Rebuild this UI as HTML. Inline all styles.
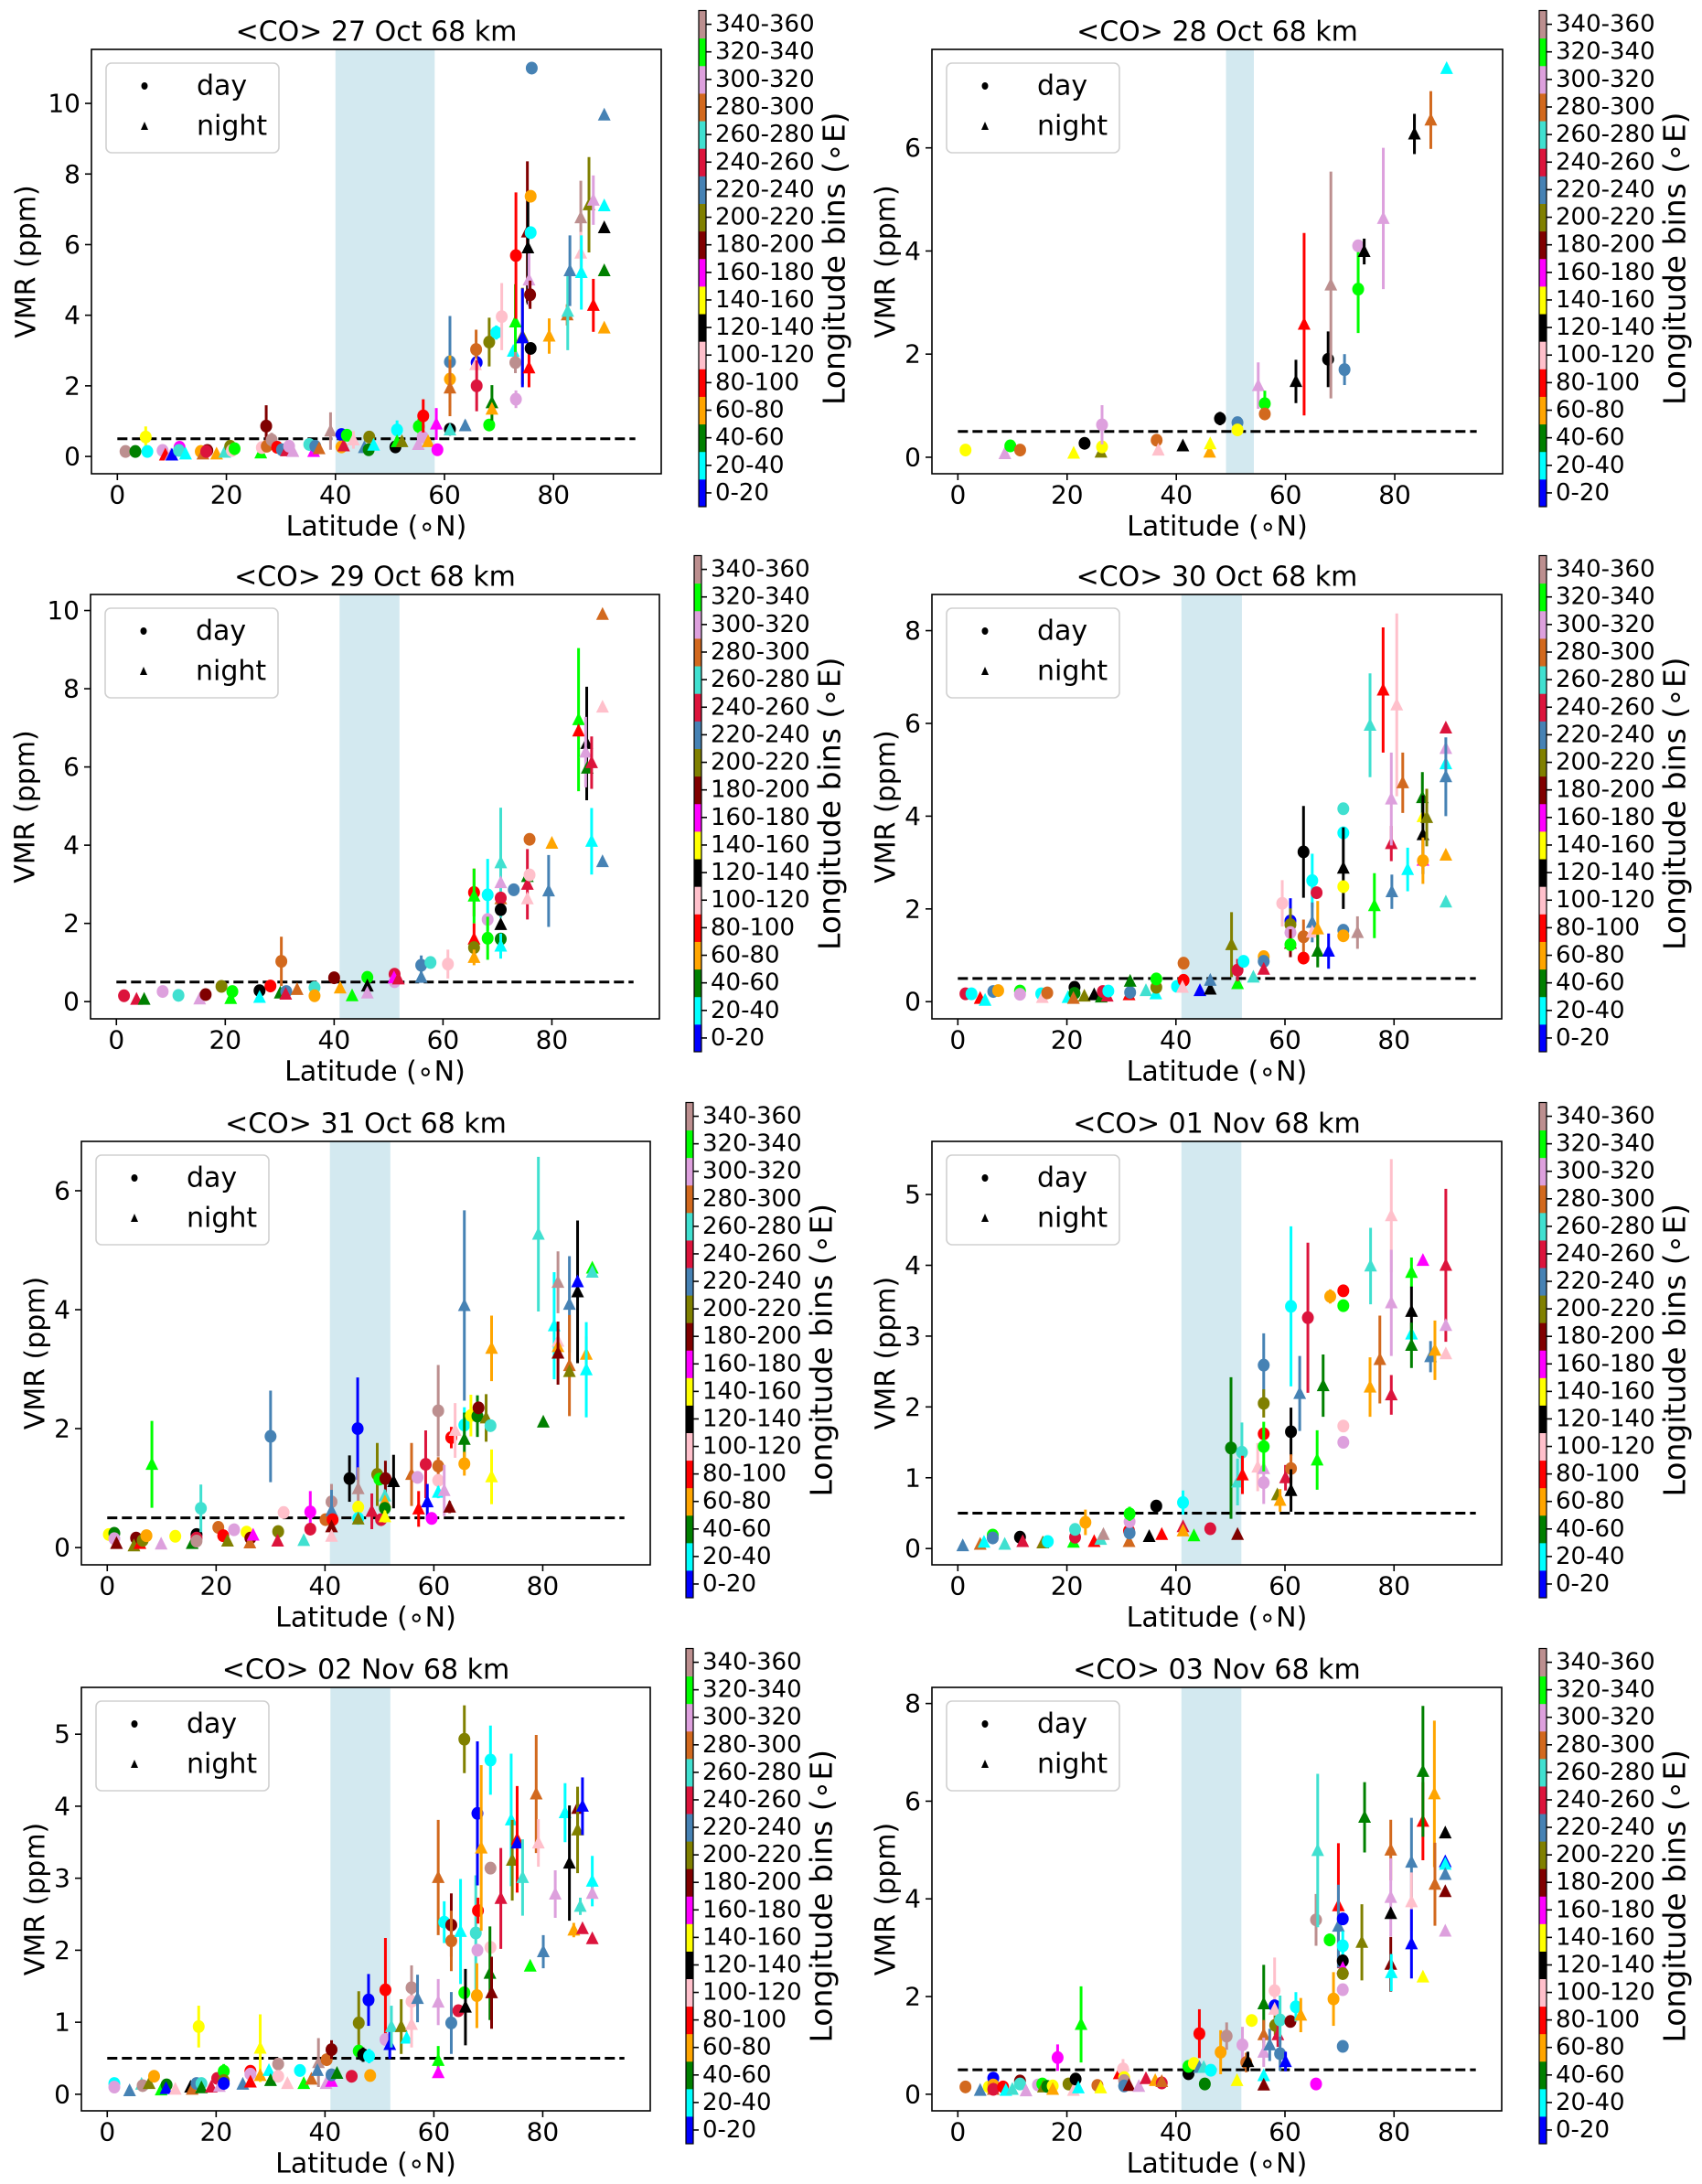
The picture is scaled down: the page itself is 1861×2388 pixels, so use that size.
<!DOCTYPE html>
<html><head><meta charset="utf-8"><title>CO VMR vs latitude</title>
<style>
html,body{margin:0;padding:0;background:#fff;}
svg{display:block;font-family:"DejaVu Sans","Liberation Sans",sans-serif;}
</style></head>
<body>
<svg id="fig" xmlns="http://www.w3.org/2000/svg" width="1861" height="2388" viewBox="0 0 1861 2388"></svg>
<script>
// ---- data: bin colours (longitude bins) ----
const binLabels = ["0-20","20-40","40-60","60-80","80-100","100-120","120-140","140-160","160-180","180-200","200-220","220-240","240-260","260-280","280-300","300-320","320-340","340-360"];
const binColors = ["#0000ff","#00ffff","#008000","#ffa500","#ff0000","#ffc0cb","#000000","#ffff00","#ff00ff","#800000","#808000","#4682b4","#dc143c","#40e0d0","#d2691e","#dda0dd","#00ff00","#bc8f8f"];
const xTicks = [0,20,40,60,80];
const thresholdVmr = 0.5;
const thresholdLat = [0,95];

// ---- Panel 1: 27 Oct ----
const p1Lat=[1.5,3.3,5.2,5.5,8.3,8.8,9.8,10,11.4,11.3,12.5,15.3,15.7,16.5,16.3,18.2,19.7,20.7,21,21.5,26.3,26.5,27.3,27.4,28.3,29.3,30.2,31,31.5,32.2,35.2,36,36.3,37,39.1,41.1,41.1,41.5,42.1,43.3,45.3,46.1,46.2,47,51,51.3,51.3,52.2,55.2,55.3,56,56.1,57,58.5,58.7,61,61,61,61,61,63.8,65.9,65.8,65.7,65.9,68.2,68.7,68.7,68.2,69.5,70.5,72.6,73,73,73.1,73.1,74.3,74.3,75.2,75.3,75.5,75.5,75.8,75.8,75.7,75.8,76,79.2,82.5,82.6,83,85,85,85.1,86.5,87.3,87.3,89.3,89.3,89.3,89.3,89.3];
const p1Vmr=[.14,.14,.55,.14,.17,.04,.04,.04,.26,.17,.07,.14,.07,.17,.14,.07,.12,.29,.17,.22,.1,.25,.86,.29,.47,.26,.19,.16,.29,.14,.34,.14,.29,.22,.72,.62,.27,.3,.6,.47,.25,.19,.55,.32,.27,.75,.42,.42,.34,.85,.55,1.15,.42,.92,.19,2.68,2.19,1.94,.77,.75,.87,2.66,3.03,2.6,2.0,.89,1.52,1.34,3.24,3.51,3.96,2.98,3.81,2.66,5.69,1.62,3.41,3.36,6.36,5.91,5.0,2.51,7.37,6.34,4.58,3.06,11.0,3.41,4.01,4.11,5.26,6.76,5.76,5.21,7.13,7.26,4.28,9.67,7.1,6.48,5.26,3.64];
const p1Err=[0,0,.3,0,0,0,0,0,0,0,0,0,0,0,0,0,0,0,0,0,0,0,.59,0,.2,0,0,0,0,0,0,0,0,0,.53,.1,0,0,0,.25,0,0,0,0,0,.27,0,0,0,.22,0,.47,0,.45,0,1.3,.67,.8,0,.1,.15,.2,.56,0,.72,0,.5,0,.69,.2,.95,0,1.07,.3,1.79,.25,1.37,1.4,2.0,1.6,.75,.55,0,0,.4,0,0,.5,.3,1.1,1.0,1.05,.6,1.05,1.35,.7,.75,0,0,0,0,0];
const p1Bin=[17,2,7,1,15,4,15,0,8,13,1,3,14,9,12,3,13,10,5,16,16,5,9,14,17,4,11,12,15,15,13,8,11,14,17,0,3,12,16,5,11,2,10,1,6,1,16,10,15,16,15,4,3,8,8,11,3,14,6,13,11,0,14,5,12,16,2,3,10,1,5,1,16,17,4,15,10,0,9,6,15,4,3,1,9,6,11,3,14,13,11,17,5,1,10,15,4,11,1,6,2,3];
const p1Night=[0,0,0,0,0,1,1,1,0,0,1,0,1,0,0,1,1,0,0,0,1,0,0,0,0,0,0,1,0,1,0,1,0,1,1,0,0,1,0,1,1,0,0,1,0,0,1,1,1,0,0,0,1,1,0,0,0,1,0,1,1,0,0,1,0,0,1,1,0,0,0,1,1,0,0,0,1,1,1,1,1,1,0,0,0,0,0,1,1,1,1,1,1,1,1,1,1,1,1,1,1,1];

// ---- Panel 2: 28 Oct ----
const p2Lat=[1.4,8.6,9.6,11.4,21.2,23.2,26.2,26.4,26.4,36.4,36.7,41.2,46.1,46.2,48,51.2,51.2,55,56.2,56.2,61.9,63.4,67.8,68.3,70.8,73.3,73.3,74.4,77.9,83.6,86.6,89.5];
const p2Vmr=[.14,.07,.22,.14,.08,.27,.1,.2,.63,.33,.14,.22,.1,.26,.75,.67,.53,1.39,1.04,.84,1.47,2.58,1.9,3.34,1.7,3.26,4.1,3.99,4.63,6.27,6.54,7.54];
const p2Err=[0,0,0,0,0,0,0,0,.38,0,0,0,0,0,.13,.1,0,.45,.25,.1,.42,1.77,.54,2.2,.3,.85,0,.25,1.37,.39,.56,0];
const p2Bin=[7,15,16,14,7,6,10,7,15,14,5,6,3,7,6,11,7,15,16,14,6,4,6,17,11,16,15,6,15,6,14,1];
const p2Night=[0,1,0,0,1,0,1,0,0,0,1,1,1,1,0,0,0,1,0,0,1,1,0,1,0,0,0,1,1,1,1,1];

// ---- Panel 3: 29 Oct ----
const p3Lat=[1.4,3.7,5.1,8.5,11.4,15.3,16.4,19.3,21.3,21,26.3,26.3,28.3,30.3,30.1,31.2,31.1,33.2,36.4,36.4,40,41.1,43.3,46.1,46.1,46.1,51.1,51.1,51,51.8,56,56,57.7,60.9,65.7,65.7,65.7,65.7,65.7,68.2,68.2,68.2,70.6,70.6,70.6,70.6,70.6,70.6,70.6,70.6,73,75.5,75.5,75.5,75.9,75.9,79.4,80,84.9,84.9,86.4,86.2,86.5,87.3,87.3,89.3,89.3,89.3];
const p3Vmr=[.15,.06,.06,.26,.16,.07,.18,.39,.26,.08,.28,.11,.4,1.03,.22,.26,.19,.31,.36,.15,.61,.35,.15,.62,.4,.22,.7,.51,.61,.58,.93,.62,1.0,.96,2.79,2.7,1.6,1.38,1.13,2.73,2.1,1.62,3.55,3.04,2.63,2.65,2.35,1.97,1.6,1.42,2.86,3.2,3.0,2.63,3.24,4.15,2.83,4.05,7.21,6.92,6.6,6.38,5.97,6.11,4.1,9.9,7.53,3.58];
const p3Err=[0,0,0,0,0,0,0,0,0,0,0,0,0,.63,0,0,0,0,0,0,.08,0,0,0,0,0,.08,0,0,0,.25,0,.05,.37,.61,.7,.4,0,.2,.92,0,.55,1.41,0,0,0,0,0,0,.32,0,0,.9,0,0,0,.92,0,1.83,0,1.45,.9,0,.67,.85,0,0,0];
const p3Bin=[12,12,2,15,13,15,9,10,16,16,6,1,4,14,2,11,12,14,13,3,9,3,16,16,6,15,12,15,8,12,11,11,13,5,4,16,4,10,3,1,15,16,13,15,14,12,6,6,2,1,11,2,12,5,5,14,11,3,16,4,6,15,2,12,1,14,5,11];
const p3Night=[0,1,1,0,0,1,0,0,0,1,0,1,0,0,1,0,1,1,0,0,0,1,1,0,1,1,0,0,1,1,0,1,0,0,0,1,1,0,1,0,0,0,1,1,1,0,0,1,0,1,0,1,1,1,0,0,1,1,1,1,1,1,1,1,1,1,1,1];

// ---- Panel 4: 30 Oct ----
const p4Lat=[1.4,2.5,4.1,5,6.5,7.4,11.4,11.4,15.3,15.5,16.4,20.2,21.4,21.4,21.2,23.2,25,26.3,26.6,27.4,27.6,31.4,31.6,31.6,34.5,36.3,36.4,36.4,40.2,41.4,41.4,41.2,44.4,46.3,46.3,50.2,51.3,51.3,52.4,54.2,56.1,56.1,56.1,59.5,61,61,61,61,61,63.4,63.4,63.4,65,65,65,65.8,66,66,68,70.7,70.7,70.7,70.7,70.7,70.7,73.3,75.6,76.4,78,79.5,79.5,79.6,80.5,81.6,82.5,85.2,85.3,85.3,85.3,85.3,86,89.5,89.5,89.5,89.5,89.5,89.5];
const p4Vmr=[.17,.17,.07,.03,.22,.24,.23,.16,.17,.09,.19,.09,.31,.18,.07,.12,.15,.1,.22,.12,.23,.15,.2,.44,.24,.17,.31,.49,.33,.46,.83,.31,.24,.27,.46,1.23,.39,.68,.87,.53,.97,.87,.7,2.12,1.74,1.66,1.49,1.26,1.23,3.23,1.4,.94,2.61,1.71,1.5,2.35,1.57,1.09,1.09,4.16,3.64,2.88,2.48,1.54,1.42,1.49,5.96,2.07,6.72,3.41,4.37,2.37,6.4,4.72,2.85,4.4,3.99,3.6,3.05,3.04,3.97,5.9,5.46,5.13,4.85,3.16,2.15];
const p4Err=[0,0,0,0,0,0,0,0,0,0,0,0,0,0,0,0,0,0,0,0,0,0,0,0,0,0,0,0,0,0,.08,0,0,0,0,.7,0,.24,.05,.05,.08,0,0,.5,.49,.35,0,.3,0,.99,.37,.05,.58,.43,0,0,.6,.35,.38,0,0,.88,0,0,0,.35,1.12,.7,1.35,.38,1.0,.37,1.97,.65,.47,.55,0,.85,0,.5,.62,0,0,0,.85,0,0];
const p4Bin=[12,1,4,1,11,3,16,15,1,5,14,1,6,2,14,10,6,2,12,12,1,4,11,2,13,1,10,16,1,4,14,5,0,6,11,10,16,12,1,13,3,11,12,5,0,10,15,9,16,6,14,4,1,11,5,12,3,2,0,13,1,6,7,11,3,17,13,16,4,12,15,11,5,14,1,2,7,6,8,3,10,12,15,1,11,3,13];
const p4Night=[0,0,1,1,0,0,0,0,0,1,0,1,0,0,1,1,1,1,0,1,0,1,0,1,1,1,0,0,0,0,0,1,1,1,1,1,1,0,0,1,0,0,1,0,0,0,0,1,0,0,0,0,0,1,1,0,1,1,1,0,0,1,0,0,0,1,1,1,1,1,1,1,1,1,1,1,1,1,1,0,1,1,1,1,1,1,1];

// ---- Panel 5: 31 Oct ----
const p5Lat=[.3,1.3,1.3,1.7,5.3,4.9,6,6.5,7.2,8.2,9.9,12.5,15.6,16.4,16.4,16.4,17.2,20.4,21.3,22.1,23.3,25.6,26.3,26.2,26.8,30,31.4,31.3,32.4,36.1,37.3,37.3,40.1,41.2,41.2,41.4,41.2,41.2,44.5,46,46.1,46.1,46.1,46.1,48.6,49.6,50,50.3,51.1,51,51,51,51,52.6,55.9,57,57.2,58.5,58.8,59.6,60.8,60.8,60.8,60.8,61.9,62.9,63.2,63.9,65.6,65.6,65.6,65.6,66.8,68,68.2,69.6,70.4,70.6,70.6,79.2,80.1,82.1,82.8,82.8,82.8,82.8,84.9,84.9,84.9,86.4,86.4,88,88,89.1,89.1];
const p5Vmr=[.22,.24,.15,.07,.16,.03,.07,.12,.2,1.4,.06,.19,.07,.22,.16,.11,.66,.34,.2,.11,.3,.26,.16,.08,.21,1.87,.27,.11,.59,.12,.6,.31,.47,.77,.62,.47,.35,.19,1.16,2.0,.99,.68,.49,.48,.61,1.23,1.15,.47,1.16,.87,.77,.66,.52,1.11,1.23,1.18,.65,1.4,.77,.49,2.3,1.37,1.13,.93,.96,.68,1.85,1.97,2.06,4.07,1.82,1.41,2.22,2.21,2.35,2.18,2.05,3.35,1.19,5.27,2.11,3.73,4.46,3.47,3.38,3.27,4.09,3.06,2.96,4.3,4.47,3.25,2.99,4.7,4.63];
const p5Err=[0,0,0,0,0,0,0,0,0,.73,0,0,0,0,0,0,.4,0,0,0,0,0,0,0,0,.77,0,0,.05,0,.35,0,0,.3,.35,0,0,0,.39,.86,.36,0,.1,0,.3,.53,.1,0,.3,.1,0,0,.1,.45,.53,.1,.3,.57,.3,0,.77,.15,0,.1,.43,.1,.18,.46,.3,1.6,.45,.2,.35,.35,.1,.4,0,.55,.46,1.3,0,.9,.52,0,0,.53,.81,.85,0,1.2,0,.3,.8,0,0];
const p5Bin=[7,2,15,9,9,10,4,10,3,16,15,7,2,6,12,17,13,14,4,10,15,7,9,14,8,11,10,12,5,13,8,12,14,17,11,4,9,5,6,0,17,7,1,10,12,10,16,12,9,13,3,2,7,6,14,15,4,12,0,8,17,14,5,1,15,9,4,5,1,11,2,3,7,2,9,10,13,3,7,13,2,1,17,5,3,9,11,14,10,6,0,3,1,16,13];
const p5Night=[0,0,0,1,0,1,1,0,0,1,1,0,1,0,0,0,0,0,0,1,0,0,0,1,1,0,0,1,0,1,0,0,0,0,1,0,1,1,0,0,1,0,0,1,1,0,0,0,0,1,1,0,1,1,1,0,1,0,1,0,0,0,0,1,1,1,0,1,0,1,1,0,0,0,0,1,0,1,1,1,1,1,1,1,1,1,1,1,1,1,1,1,1,1,1];

// ---- Panel 6: 01 Nov ----
const p6Lat=[.9,4.1,4.8,6.4,6.4,8.6,11.4,11.9,15.5,15.6,16.5,21.2,21.5,21.5,23.4,25,26.2,26.7,31.4,31.4,31.5,31.5,31.5,35.1,36.4,37.4,41.3,41.3,41.3,43.3,46.3,51.3,50.1,51.3,52.1,52.2,55,56.1,56.1,56.1,56.1,56.1,56.1,58.6,59.1,60.1,61.1,61.1,61.1,61.1,62.7,64.2,65.9,67,68.3,70.7,70.7,70.7,70.7,75.6,75.7,77.4,79.5,79.5,79.5,83.2,83.2,83.2,83.2,85.3,86.7,87.5,89.5,89.5,89.5];
const p6Vmr=[.04,.06,.09,.19,.15,.06,.16,.1,.08,.08,.1,.09,.16,.27,.37,.1,.13,.2,.1,.25,.22,.38,.49,.17,.6,.2,.65,.31,.25,.18,.28,.2,1.42,.94,1.36,1.04,1.15,1.13,.93,2.59,2.05,1.62,1.44,.76,.68,1.0,1.65,1.13,.82,3.42,2.19,3.26,1.25,2.3,3.56,3.64,3.43,1.73,1.5,2.28,3.99,2.67,4.7,3.47,2.17,3.9,3.35,3.03,2.87,4.07,2.71,2.8,4.0,3.15,2.75];
const p6Err=[0,0,0,0,0,0,0,0,0,0,0,0,0,0,.18,0,0,0,0,0,0,0,.1,0,0,0,.17,0,0,0,0,0,1.0,.33,.42,.27,.34,0,.3,.45,.2,0,.35,0,.16,.18,.34,.2,.3,1.13,.53,1.06,.42,.44,.1,0,0,0,0,.42,.54,.62,.8,.75,.28,.21,.35,0,.32,0,.22,.42,1.08,0,0];
const p6Bin=[11,14,1,16,11,13,6,12,5,10,1,16,12,13,3,4,13,17,14,4,11,15,16,6,6,4,1,12,3,16,12,9,2,13,13,4,5,15,15,11,10,4,16,10,3,12,6,14,6,1,11,12,16,2,3,4,16,5,15,3,13,14,5,15,12,16,6,1,2,8,11,3,12,15,5];
const p6Night=[1,1,1,0,0,1,0,1,1,1,0,1,0,0,0,1,1,1,1,0,0,0,0,1,0,1,0,1,1,1,0,1,0,1,0,1,1,1,0,0,0,0,0,1,1,1,0,0,1,0,1,0,1,1,0,0,0,0,0,1,1,1,1,1,1,1,1,1,1,1,1,1,1,1,1];

// ---- Panel 7: 02 Nov ----
const p7Lat=[1.3,1.3,4.1,6.3,6.5,7.7,8.6,9.9,10.9,10.8,12.5,15.3,15.6,16.4,16.8,17.3,17.3,19.1,20.2,20.6,21.4,21.4,21.4,24.9,26.3,26.3,26.3,28.1,28.1,29.7,30,31.4,31.4,33.1,35.4,36.1,37.5,38.8,38.6,40.2,40.3,41.2,41.2,41.2,42.2,44.9,46.2,46.2,47,48,48.1,48.3,51.1,51.1,51.9,52.2,54,55,55.9,55.9,55.9,57,60.8,60.8,60.8,60.8,61.9,63.2,63.2,63.2,64.5,64.9,65.6,65.6,65.8,67.7,68,68.1,68,67.9,68.7,70.4,70.4,70.4,70.3,70.6,72.3,74.2,74.4,75.3,75.3,76.3,77.7,78.8,79.2,80.1,82.3,84.1,84.9,86.4,86.4,87.3,85.7,87.3,86.9,89.1,89.1,89.1];
const p7Vmr=[.15,.1,.05,.14,.12,.15,.25,.06,.13,.08,.07,.1,.07,.15,.94,.15,.09,.1,.22,.11,.32,.19,.15,.14,.32,.28,.17,.64,.26,.33,.19,.42,.25,.15,.33,.15,.21,.44,.33,.15,.48,.62,.18,.27,.29,.25,.99,.6,.55,1.31,.53,.26,1.45,.76,.69,.94,.94,.78,1.48,1.29,.97,1.33,3.01,1.28,.47,.3,2.39,2.35,2.13,.99,1.16,2.26,4.93,1.41,1.21,2.24,3.9,2.55,2.0,1.37,3.42,4.64,3.14,2.04,1.68,1.41,2.72,3.81,3.25,3.54,3.49,3.01,1.78,4.17,3.49,1.98,2.78,3.91,3.21,3.97,3.67,4.0,2.28,2.3,2.61,2.96,2.79,2.16];
const p7Err=[0,0,0,0,0,0,0,0,0,0,0,0,0,0,.29,0,0,0,0,0,.1,0,0,0,0,0,0,.47,0,0,0,0,0,0,0,0,0,.34,0,0,0,.13,0,0,0,0,.44,0,.1,.36,.1,0,.72,0,.2,.29,.38,0,.31,0,.32,.33,.8,.32,.2,0,.29,.44,.42,.43,0,.73,.47,0,.53,.8,1.0,.18,0,.45,1.15,.48,0,0,.65,.5,.7,.92,.56,.74,0,.53,0,.82,.33,.23,.33,.41,.8,.25,.6,.4,.1,0,.12,.35,0,0];
const p7Bin=[1,15,11,13,17,10,3,16,2,0,5,6,14,11,7,13,2,12,12,15,16,10,0,11,4,15,4,7,3,1,2,17,5,5,1,16,14,17,11,15,14,9,8,11,2,12,10,16,6,0,1,3,4,15,0,13,10,1,17,5,5,11,14,15,16,8,1,9,14,11,12,1,10,16,6,13,0,4,15,3,3,1,17,5,2,9,12,1,10,4,0,13,16,14,5,11,15,1,6,9,10,0,3,12,13,1,15,12];
const p7Night=[0,0,1,1,0,1,0,1,0,1,1,1,1,0,0,0,1,1,0,1,0,0,0,1,0,0,1,1,1,1,1,0,0,1,0,1,1,1,1,1,0,0,1,0,1,0,0,0,0,0,0,0,0,0,1,1,1,1,0,0,1,1,1,1,1,1,0,0,0,0,0,1,0,0,1,0,0,0,0,0,1,0,0,0,1,1,1,1,1,1,1,1,1,1,1,1,1,1,1,1,1,1,1,1,1,1,1,1];

// ---- Panel 8: 03 Nov ----
const p8Lat=[1.4,4.1,5.7,6.5,6.5,6.5,6.5,8.3,8.8,10,11.4,11.4,12.5,14.7,15.5,15.7,16.4,17.4,17.4,18.3,20.3,21.2,21.6,22.1,22.6,25.6,26.2,29.6,30.3,30.5,30.5,30.5,31.4,33.2,34.5,36.2,37.4,37.4,42.3,42.3,43.3,44.3,44.3,45.1,45.3,46.4,48.2,49.3,51.2,52.2,52.9,53.2,53.9,56.1,56.1,56.1,56.1,56.1,57.2,58.1,58.1,58.1,58.2,58.7,59.1,59.1,60.1,61,62,62.9,65.7,65.7,66,68.2,68.9,69.8,69.8,70.6,70.6,70.6,70.6,70.6,70.6,70.6,74.1,74.6,79.4,79.4,79.4,79.4,79.5,83.2,83.2,83.2,85.3,85.3,85.3,87.4,87.5,89.4,89.4,89.4,89.4,89.4,89.4];
const p8Vmr=[.15,.08,.15,.33,.19,.1,.1,.15,.08,.1,.27,.21,.07,.19,.21,.15,.16,.17,.1,.75,.21,.08,.31,.13,1.43,.18,.13,.42,.52,.34,.28,.17,.18,.16,.32,.28,.23,.26,.42,.57,.63,1.24,.55,.55,.21,.49,.86,1.19,.28,1.01,.65,.67,1.51,1.85,1.22,.86,.38,.19,1.01,2.12,1.81,1.74,1.41,1.22,1.52,.83,.67,1.49,1.79,1.62,3.57,.21,4.99,3.16,1.95,3.86,3.44,3.59,3.04,2.73,2.58,2.47,2.14,.98,3.11,5.67,5.0,4.03,3.7,2.66,2.49,4.75,3.94,3.08,5.59,6.61,2.4,6.15,4.3,5.35,4.76,4.71,4.5,4.15,3.34];
const p8Err=[0,0,0,0,0,0,0,0,0,0,0,0,0,0,0,0,0,0,0,.27,0,0,0,0,.78,0,0,.1,.2,0,0,0,0,0,0,0,0,0,0,.1,0,.5,.05,0,0,0,.45,.28,0,.37,.2,.2,0,.8,.3,.3,0,0,.33,.68,0,0,.2,.25,.5,.35,.2,0,.3,.35,.53,0,1.57,.13,.55,1.28,.85,0,.3,0,0,0,0,0,.78,.72,.62,.8,0,.56,.38,.91,.6,.71,.8,1.34,0,1.5,.85,0,0,0,0,0,0];
const p8Bin=[14,11,7,0,3,14,12,4,1,13,9,13,15,15,16,10,2,7,3,8,10,5,6,1,16,14,7,4,5,7,17,11,9,15,12,3,12,14,6,16,7,4,11,13,2,1,3,17,7,15,14,6,7,2,14,15,1,9,11,5,0,5,10,12,13,11,0,9,1,3,17,8,13,16,3,4,11,0,1,6,8,10,15,11,10,2,14,15,6,9,1,11,5,0,4,2,7,3,14,6,0,1,11,9,15];
const p8Night=[0,1,0,0,0,1,0,0,1,1,0,0,1,0,0,1,0,0,1,0,0,1,0,1,1,0,1,1,0,0,0,0,1,1,1,1,0,1,0,0,0,0,1,1,0,0,0,0,1,0,0,1,0,1,1,1,1,1,1,0,0,1,0,1,0,0,1,0,0,1,0,0,1,0,0,1,1,0,0,0,1,0,0,0,1,1,1,1,1,1,1,1,1,1,1,1,1,1,1,1,1,1,1,1,1];

// ---- layout (not data) ----
const panels = [
 {key:"27-oct",title:"<CO> 27 Oct 68 km",L:100,R:723,T:54,B:518,ymin:-0.49,ymax:11.53,yt:[0,2,4,6,8,10],sh:[40,58.2],cbx:764,lat:p1Lat,vmr:p1Vmr,err:p1Err,bin:p1Bin,night:p1Night},
 {key:"28-oct",title:"<CO> 28 Oct 68 km",L:1019,R:1643,T:54,B:518,ymin:-0.32,ymax:7.91,yt:[0,2,4,6],sh:[49.1,54.2],cbx:1683,lat:p2Lat,vmr:p2Vmr,err:p2Err,bin:p2Bin,night:p2Night},
 {key:"29-oct",title:"<CO> 29 Oct 68 km",L:99,R:721,T:650,B:1114,ymin:-0.44,ymax:10.41,yt:[0,2,4,6,8,10],sh:[41,52],cbx:759,lat:p3Lat,vmr:p3Vmr,err:p3Err,bin:p3Bin,night:p3Night},
 {key:"30-oct",title:"<CO> 30 Oct 68 km",L:1019,R:1642,T:650,B:1114,ymin:-0.37,ymax:8.78,yt:[0,2,4,6,8],sh:[41,52.1],cbx:1683,lat:p4Lat,vmr:p4Vmr,err:p4Err,bin:p4Bin,night:p4Night},
 {key:"31-oct",title:"<CO> 31 Oct 68 km",L:89,R:711,T:1248,B:1711,ymin:-0.29,ymax:6.83,yt:[0,2,4,6],sh:[40.9,52],cbx:750,lat:p5Lat,vmr:p5Vmr,err:p5Err,bin:p5Bin,night:p5Night},
 {key:"01-nov",title:"<CO> 01 Nov 68 km",L:1019,R:1642,T:1248,B:1711,ymin:-0.23,ymax:5.75,yt:[0,1,2,3,4,5],sh:[41,52],cbx:1683,lat:p6Lat,vmr:p6Vmr,err:p6Err,bin:p6Bin,night:p6Night},
 {key:"02-nov",title:"<CO> 02 Nov 68 km",L:89,R:711,T:1845,B:2308,ymin:-0.23,ymax:5.65,yt:[0,1,2,3,4,5],sh:[41,52],cbx:750,lat:p7Lat,vmr:p7Vmr,err:p7Err,bin:p7Bin,night:p7Night},
 {key:"03-nov",title:"<CO> 03 Nov 68 km",L:1019,R:1642,T:1845,B:2308,ymin:-0.34,ymax:8.33,yt:[0,2,4,6,8],sh:[41,52],cbx:1683,lat:p8Lat,vmr:p8Vmr,err:p8Err,bin:p8Bin,night:p8Night}
];
const XMIN=-4.75, XMAX=99.75;
const NS="http://www.w3.org/2000/svg";
const svg=document.getElementById("fig");
function mk(tag,attrs,parent){const e=document.createElementNS(NS,tag);for(const k in attrs)e.setAttribute(k,attrs[k]);(parent||svg).appendChild(e);return e;}
function txt(s,attrs,parent){const e=mk("text",attrs,parent);e.textContent=s;return e;}

panels.forEach(function(p){
  const xs=function(v){return p.L+(v-XMIN)/(XMAX-XMIN)*(p.R-p.L);};
  const ys=function(v){return p.B-(v-p.ymin)/(p.ymax-p.ymin)*(p.B-p.T);};
  const g=mk("g",{});
  
  
  const cx=(p.L+p.R)/2;
  const t=txt(p.title,{x:cx,y:p.T-19,"text-anchor":"middle","dominant-baseline":"central","font-size":30},g);
  
  
  const sh=mk("rect",{x:xs(p.sh[0]),y:p.T,width:xs(p.sh[1])-xs(p.sh[0]),height:p.B-p.T,fill:"#d3e9f0"},g);
  
  
  const dl=mk("line",{x1:xs(thresholdLat[0]),x2:xs(thresholdLat[1]),y1:ys(thresholdVmr),y2:ys(thresholdVmr),stroke:"#000","stroke-width":3,"stroke-dasharray":"11 5"},g);
  
  
  for(let i=0;i<p.lat.length;i++){
    const x=xs(p.lat[i]), y=ys(p.vmr[i]), c=binColors[p.bin[i]];
    if(p.err[i]>0){
      const eb=mk("line",{x1:x,x2:x,y1:ys(p.vmr[i]-p.err[i]),y2:ys(p.vmr[i]+p.err[i]),stroke:c,"stroke-width":3},g);
      
      
    }
    let m;
    if(p.night[i]){
      m=mk("polygon",{points:(x)+","+(y-8)+" "+(x-7)+","+(y+6)+" "+(x+7)+","+(y+6),fill:c},g);
      
    } else {
      m=mk("ellipse",{cx:x,cy:y,rx:6.5,ry:7,fill:c},g);
      
    }
    
  }
  const fr=mk("rect",{x:p.L,y:p.T,width:p.R-p.L,height:p.B-p.T,fill:"none",stroke:"#000","stroke-width":1.6},g);
  
  
  xTicks.forEach(function(v){
    const X=xs(v);
    mk("line",{x1:X,x2:X,y1:p.B,y2:p.B+7,stroke:"#000","stroke-width":1.6},g);
    const tl=txt(String(v),{x:X,y:p.B+23,"text-anchor":"middle","dominant-baseline":"central","font-size":28},g);
    
    
  });
  p.yt.forEach(function(v){
    const Y=ys(v);
    mk("line",{x1:p.L-7,x2:p.L,y1:Y,y2:Y,stroke:"#000","stroke-width":1.6},g);
    const tl=txt(String(v),{x:p.L-12,y:Y,"text-anchor":"end","dominant-baseline":"central","font-size":28},g);
    
    
  });
  const xl=txt("Latitude (\u2218N)",{x:cx,y:p.B+58,"text-anchor":"middle","dominant-baseline":"central","font-size":30},g);
  
  
  const ylx=p.L-(p.yt[p.yt.length-1]>=10?71:50);
  const yl=txt("VMR (ppm)",{x:ylx,y:(p.T+p.B)/2,"text-anchor":"middle","dominant-baseline":"central","font-size":30,transform:"rotate(-90 "+ylx+" "+((p.T+p.B)/2)+")"},g);
  
  
  // legend
  const lg=mk("g",{},g);
  
  
  mk("rect",{x:p.L+16,y:p.T+15,width:189,height:98,rx:6,ry:6,fill:"#fff","fill-opacity":0.85,stroke:"#d0d0d0","stroke-width":1.6},lg);
  mk("ellipse",{cx:p.L+58,cy:p.T+40,rx:3.5,ry:4,fill:"#000"},lg);
  mk("polygon",{points:(p.L+58)+","+(p.T+79)+" "+(p.L+54)+","+(p.T+88)+" "+(p.L+62)+","+(p.T+88),fill:"#000"},lg);
  const ld=txt("day",{x:p.L+115,y:p.T+40,"dominant-baseline":"central","font-size":30},lg);
  
  
  const ln=txt("night",{x:p.L+115,y:p.T+84,"dominant-baseline":"central","font-size":30},lg);
  
  
  // colorbar
  const cb=mk("g",{},g);
  
  
  const cT=p.T-42.5, cB=p.B+36, n=binColors.length, h=(cB-cT)/n;
  for(let k=0;k<n;k++){
    const y0=cB-(k+1)*h;
    const seg=mk("rect",{x:p.cbx,y:y0,width:8,height:h+0.5,fill:binColors[k]},cb);
    
    
    mk("line",{x1:p.cbx+8,x2:p.cbx+14,y1:y0+h/2,y2:y0+h/2,stroke:"#000","stroke-width":1.6},cb);
    const cl=txt(binLabels[k],{x:p.cbx+18,y:y0+h/2,"dominant-baseline":"central","font-size":26},cb);
    
    
  }
  mk("rect",{x:p.cbx,y:cT,width:8,height:cB-cT,fill:"none",stroke:"#000","stroke-width":1.2},cb);
  const lx=p.cbx+148, lyc=(cT+cB)/2;
  const ct=txt("Longitude bins (\u2218E)",{x:lx,y:lyc,"text-anchor":"middle","dominant-baseline":"central","font-size":33,transform:"rotate(-90 "+lx+" "+lyc+")"},cb);
  
  
});
</script>
</body></html>
